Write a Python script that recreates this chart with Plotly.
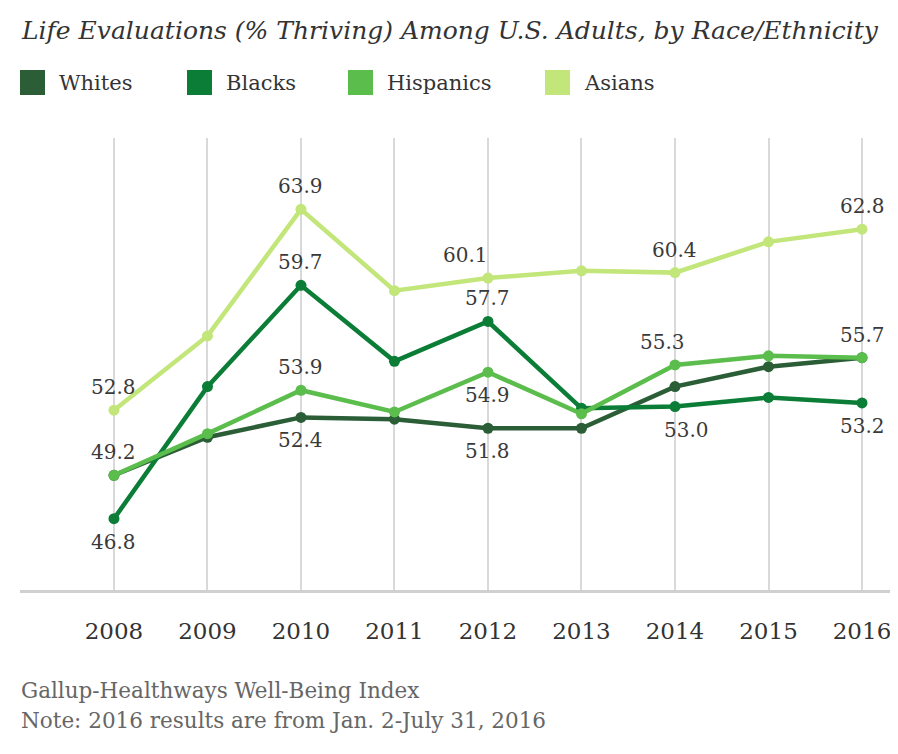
import plotly.graph_objects as go

years = [2008, 2009, 2010, 2011, 2012, 2013, 2014, 2015, 2016]
whites = [49.2, 51.3, 52.4, 52.3, 51.8, 51.8, 54.1, 55.2, 55.7]
blacks = [46.8, 54.1, 59.7, 55.5, 57.7, 52.9, 53.0, 53.5, 53.2]
hispanics = [49.2, 51.5, 53.9, 52.7, 54.9, 52.6, 55.3, 55.8, 55.7]
asians = [52.8, 56.9, 63.9, 59.4, 60.1, 60.5, 60.4, 62.1, 62.8]

series = {"Whites": whites, "Blacks": blacks, "Hispanics": hispanics, "Asians": asians}
colors = {"Whites": "#2b5e36", "Blacks": "#0b7d36", "Hispanics": "#5bbd4c", "Asians": "#c2e67a"}

# which points get a value label: (series, year, above/below, xshift)
labels = [
    ("Asians", 2008, 1, 0), ("Whites", 2008, 1, 0), ("Blacks", 2008, -1, 0),
    ("Asians", 2010, 1, 0), ("Blacks", 2010, 1, 0), ("Hispanics", 2010, 1, 0), ("Whites", 2010, -1, 0),
    ("Asians", 2012, 1, -22), ("Blacks", 2012, 1, 0), ("Hispanics", 2012, -1, 0), ("Whites", 2012, -1, 0),
    ("Asians", 2014, 1, 0), ("Hispanics", 2014, 1, -12), ("Blacks", 2014, -1, 12),
    ("Asians", 2016, 1, 0), ("Hispanics", 2016, 1, 0), ("Blacks", 2016, -1, 0),
]

# page body has an 8px margin, so work in page pixels and shift back
OFF = 8
W, H = 898 - OFF, 754 - OFF
L, R, T, B = 20 - OFF, 0, 138 - OFF, 164
pw, ph = W - L - R, H - T - B


def px(x):
    return (x - OFF - L) / pw


def py(y):
    return (H - B - (y - OFF)) / ph


serif = "DejaVu Serif"

fig = go.Figure()
for name, vals in series.items():
    fig.add_trace(go.Scatter(
        x=years, y=vals, name=name, mode="lines+markers",
        line=dict(color=colors[name], width=4.5),
        marker=dict(color=colors[name], size=11),
        showlegend=False, hoverinfo="skip",
    ))

for name, yr, side, xs in labels:
    v = series[name][years.index(yr)]
    fig.add_annotation(
        x=yr, y=v, text=f"{v:.1f}", showarrow=False,
        yshift=23 * side, xshift=xs,
        font=dict(family=serif, size=20, color="#3a3a3a"),
    )

# legend drawn by hand: square + name
legend_pos = {"Whites": 20, "Blacks": 187, "Hispanics": 348, "Asians": 545}
for name, x0 in legend_pos.items():
    fig.add_shape(type="rect", xref="paper", yref="paper",
                  x0=px(x0), x1=px(x0 + 25), y0=py(95), y1=py(70),
                  fillcolor=colors[name], line=dict(width=0))
    fig.add_annotation(xref="paper", yref="paper", x=px(x0 + 37), y=py(83),
                       text=name, showarrow=False, xanchor="left", yanchor="middle",
                       font=dict(family=serif, size=21, color="#333333"))

fig.add_annotation(xref="paper", yref="paper", x=px(19), y=py(31),
                   text="<i>Life Evaluations (% Thriving) Among U.S. Adults, by Race/Ethnicity</i>",
                   showarrow=False, xanchor="left", yanchor="middle",
                   font=dict(family=serif, size=25, color="#333333"))
fig.add_annotation(xref="paper", yref="paper", x=px(19), y=py(690),
                   text="Gallup-Healthways Well-Being Index", showarrow=False,
                   xanchor="left", yanchor="middle",
                   font=dict(family=serif, size=21.5, color="#666666"))
fig.add_annotation(xref="paper", yref="paper", x=px(19), y=py(720),
                   text="Note: 2016 results are from Jan. 2-July 31, 2016", showarrow=False,
                   xanchor="left", yanchor="middle",
                   font=dict(family=serif, size=21.5, color="#666666"))

fig.update_layout(
    width=W, height=H,
    margin=dict(l=L, r=R, t=T, b=B),
    plot_bgcolor="white", paper_bgcolor="white",
    xaxis=dict(
        range=[2006.995, 2016.385], tickvals=years, ticktext=[str(y) for y in years],
        showgrid=True, gridcolor="#d9d9d9", gridwidth=2,
        showline=True, linecolor="#d0d0d0", linewidth=3,
        ticks="", ticklabelstandoff=18,
        tickfont=dict(family=serif, size=23, color="#333333"),
        zeroline=False, fixedrange=True,
    ),
    yaxis=dict(
        range=[42.86, 67.84], showgrid=False, showticklabels=False,
        zeroline=False, showline=False, fixedrange=True,
    ),
)

fig.write_html("out.html")
